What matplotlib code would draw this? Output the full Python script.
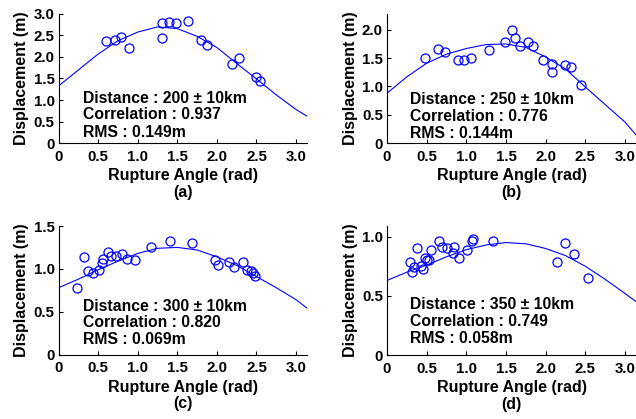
import numpy as np
import matplotlib
matplotlib.use('Agg')
import matplotlib.pyplot as plt

plt.rcParams['font.family'] = ['Liberation Sans', 'DejaVu Sans']
plt.rcParams['font.weight'] = 'bold'

# x ticks shared by all panels
x_ticks = [0, 0.5, 1.0, 1.5, 2.0, 2.5, 3.0]
x_tick_labels = ['0', '0.5', '1.0', '1.5', '2.0', '2.5', '3.0']

# fitted curves
curve_x = [0, 0.25, 0.5, 0.75, 1.0, 1.25, 1.5, 1.75, 2.0, 2.25, 2.5, 2.75, 3.0, np.pi]
curve_a = [1.33, 1.70, 2.07, 2.38, 2.58, 2.70, 2.66, 2.48, 2.22, 1.85, 1.49, 1.12, 0.78, 0.62]
curve_b = [0.88, 1.17, 1.41, 1.57, 1.67, 1.74, 1.75, 1.69, 1.52, 1.31, 0.99, 0.68, 0.37, 0.14]
curve_c = [0.78, 0.88, 0.99, 1.09, 1.18, 1.24, 1.25, 1.22, 1.14, 1.04, 0.91, 0.78, 0.64, 0.54]
curve_d = [0.63, 0.70, 0.76, 0.83, 0.89, 0.93, 0.95, 0.94, 0.90, 0.84, 0.75, 0.64, 0.52, 0.45]

# (a) 200 km
pts_a_x = [0.60, 0.71, 0.79, 0.89, 1.30, 1.31, 1.39, 1.48, 1.64, 1.80, 1.87, 2.19, 2.28, 2.49, 2.55]
pts_a_y = [2.37, 2.40, 2.46, 2.22, 2.45, 2.78, 2.81, 2.80, 2.84, 2.40, 2.29, 1.84, 1.98, 1.53, 1.44]

# (b) 250 km
pts_b_x = [0.48, 0.64, 0.73, 0.89, 0.97, 1.06, 1.29, 1.49, 1.58, 1.61, 1.68, 1.78, 1.84,
           1.97, 2.08, 2.08, 2.25, 2.32, 2.45]
pts_b_y = [1.51, 1.66, 1.61, 1.46, 1.46, 1.50, 1.65, 1.78, 2.00, 1.86, 1.72, 1.79, 1.71,
           1.47, 1.39, 1.26, 1.38, 1.35, 1.02]

# (c) 300 km
pts_c_x = [0.23, 0.32, 0.375, 0.43, 0.51, 0.55, 0.56, 0.62, 0.66, 0.73, 0.80, 0.86, 0.97,
           1.17, 1.41, 1.69, 1.98, 2.02, 2.15, 2.21, 2.33, 2.38, 2.43, 2.46, 2.48]
pts_c_y = [0.78, 1.14, 0.98, 0.95, 0.99, 1.07, 1.12, 1.20, 1.15, 1.15, 1.17, 1.12, 1.10,
           1.25, 1.33, 1.30, 1.10, 1.04, 1.08, 1.02, 1.08, 0.99, 0.97, 0.95, 0.92]

# (d) 350 km
pts_d_x = [0.29, 0.31, 0.34, 0.38, 0.43, 0.46, 0.48, 0.50, 0.53, 0.55, 0.66, 0.69, 0.76,
           0.83, 0.85, 0.91, 1.01, 1.07, 1.09, 1.34, 2.14, 2.24, 2.36, 2.53]
pts_d_y = [0.79, 0.70, 0.74, 0.90, 0.75, 0.73, 0.82, 0.80, 0.80, 0.89, 0.96, 0.91, 0.90,
           0.86, 0.91, 0.82, 0.89, 0.96, 0.98, 0.96, 0.79, 0.95, 0.85, 0.65]

panels = [
    dict(rect=[0.0923, 0.6587, 0.3907, 0.3079], curve=curve_a, px=pts_a_x, py=pts_a_y,
         ylim=3.0, yticks=[0, 0.5, 1.0, 1.5, 2.0, 2.5, 3.0],
         ylabels=['0', '0.5', '1.0', '1.5', '2.0', '2.5', '3.0'],
         lines=['Distance : 200 ± 10km', 'Correlation : 0.937', 'RMS : 0.149m'],
         tx=0.097, ty=[0.312, 0.184, 0.049], tag='(a)'),
    dict(rect=[0.6085, 0.6587, 0.3918, 0.3079], curve=curve_b, px=pts_b_x, py=pts_b_y,
         ylim=2.28, yticks=[0, 0.5, 1.0, 1.5, 2.0],
         ylabels=['0', '0.5', '1.0', '1.5', '2.0'],
         lines=['Distance : 250 ± 10km', 'Correlation : 0.776', 'RMS : 0.144m'],
         tx=0.092, ty=[0.300, 0.171, 0.041], tag='(b)'),
    dict(rect=[0.0923, 0.1539, 0.3907, 0.3067], curve=curve_c, px=pts_c_x, py=pts_c_y,
         ylim=1.5, yticks=[0, 0.5, 1.0, 1.5],
         ylabels=['0', '0.5', '1.0', '1.5'],
         lines=['Distance : 300 ± 10km', 'Correlation : 0.820', 'RMS : 0.069m'],
         tx=0.097, ty=[0.341, 0.212, 0.079], tag='(c)'),
    dict(rect=[0.6085, 0.1527, 0.3918, 0.3079], curve=curve_d, px=pts_d_x, py=pts_d_y,
         ylim=1.09, yticks=[0, 0.5, 1.0],
         ylabels=['0', '0.5', '1.0'],
         lines=['Distance : 350 ± 10km', 'Correlation : 0.749', 'RMS : 0.058m'],
         tx=0.092, ty=[0.357, 0.225, 0.090], tag='(d)'),
]

fig = plt.figure(figsize=(6.36, 4.19), dpi=100)

for p in panels:
    ax = fig.add_axes(p['rect'])
    ax.plot(curve_x, p['curve'], color='blue', lw=0.8)
    ax.plot(p['px'], p['py'], 'o', mfc='none', mec='blue', ms=6.5, mew=0.9)
    ax.set_xlim(0, np.pi)
    ax.set_ylim(0, p['ylim'])
    ax.set_xticks(x_ticks)
    ax.set_xticklabels(x_tick_labels)
    ax.set_yticks(p['yticks'])
    ax.set_yticklabels(p['ylabels'])
    ax.tick_params(axis='x', direction='in', length=3, width=0.8, labelsize=10.8, pad=5)
    ax.tick_params(axis='y', direction='in', length=3, width=0.8, labelsize=10.8, pad=3)
    ax.spines['top'].set_visible(False)
    ax.spines['right'].set_visible(False)
    ax.set_xlabel('Rupture Angle (rad)', fontsize=11.5, fontweight='bold', labelpad=3)
    ax.set_ylabel('Displacement (m)', fontsize=11.5, fontweight='bold', labelpad=3)
    for line, y in zip(p['lines'], p['ty']):
        ax.text(p['tx'], y, line, transform=ax.transAxes, fontsize=11.3,
                fontweight='bold', va='baseline', ha='left')
    ax.text(0.5, -0.38, p['tag'], transform=ax.transAxes, fontsize=11.5,
            fontweight='bold', va='center', ha='center')

plt.savefig('out.png', dpi=100)
